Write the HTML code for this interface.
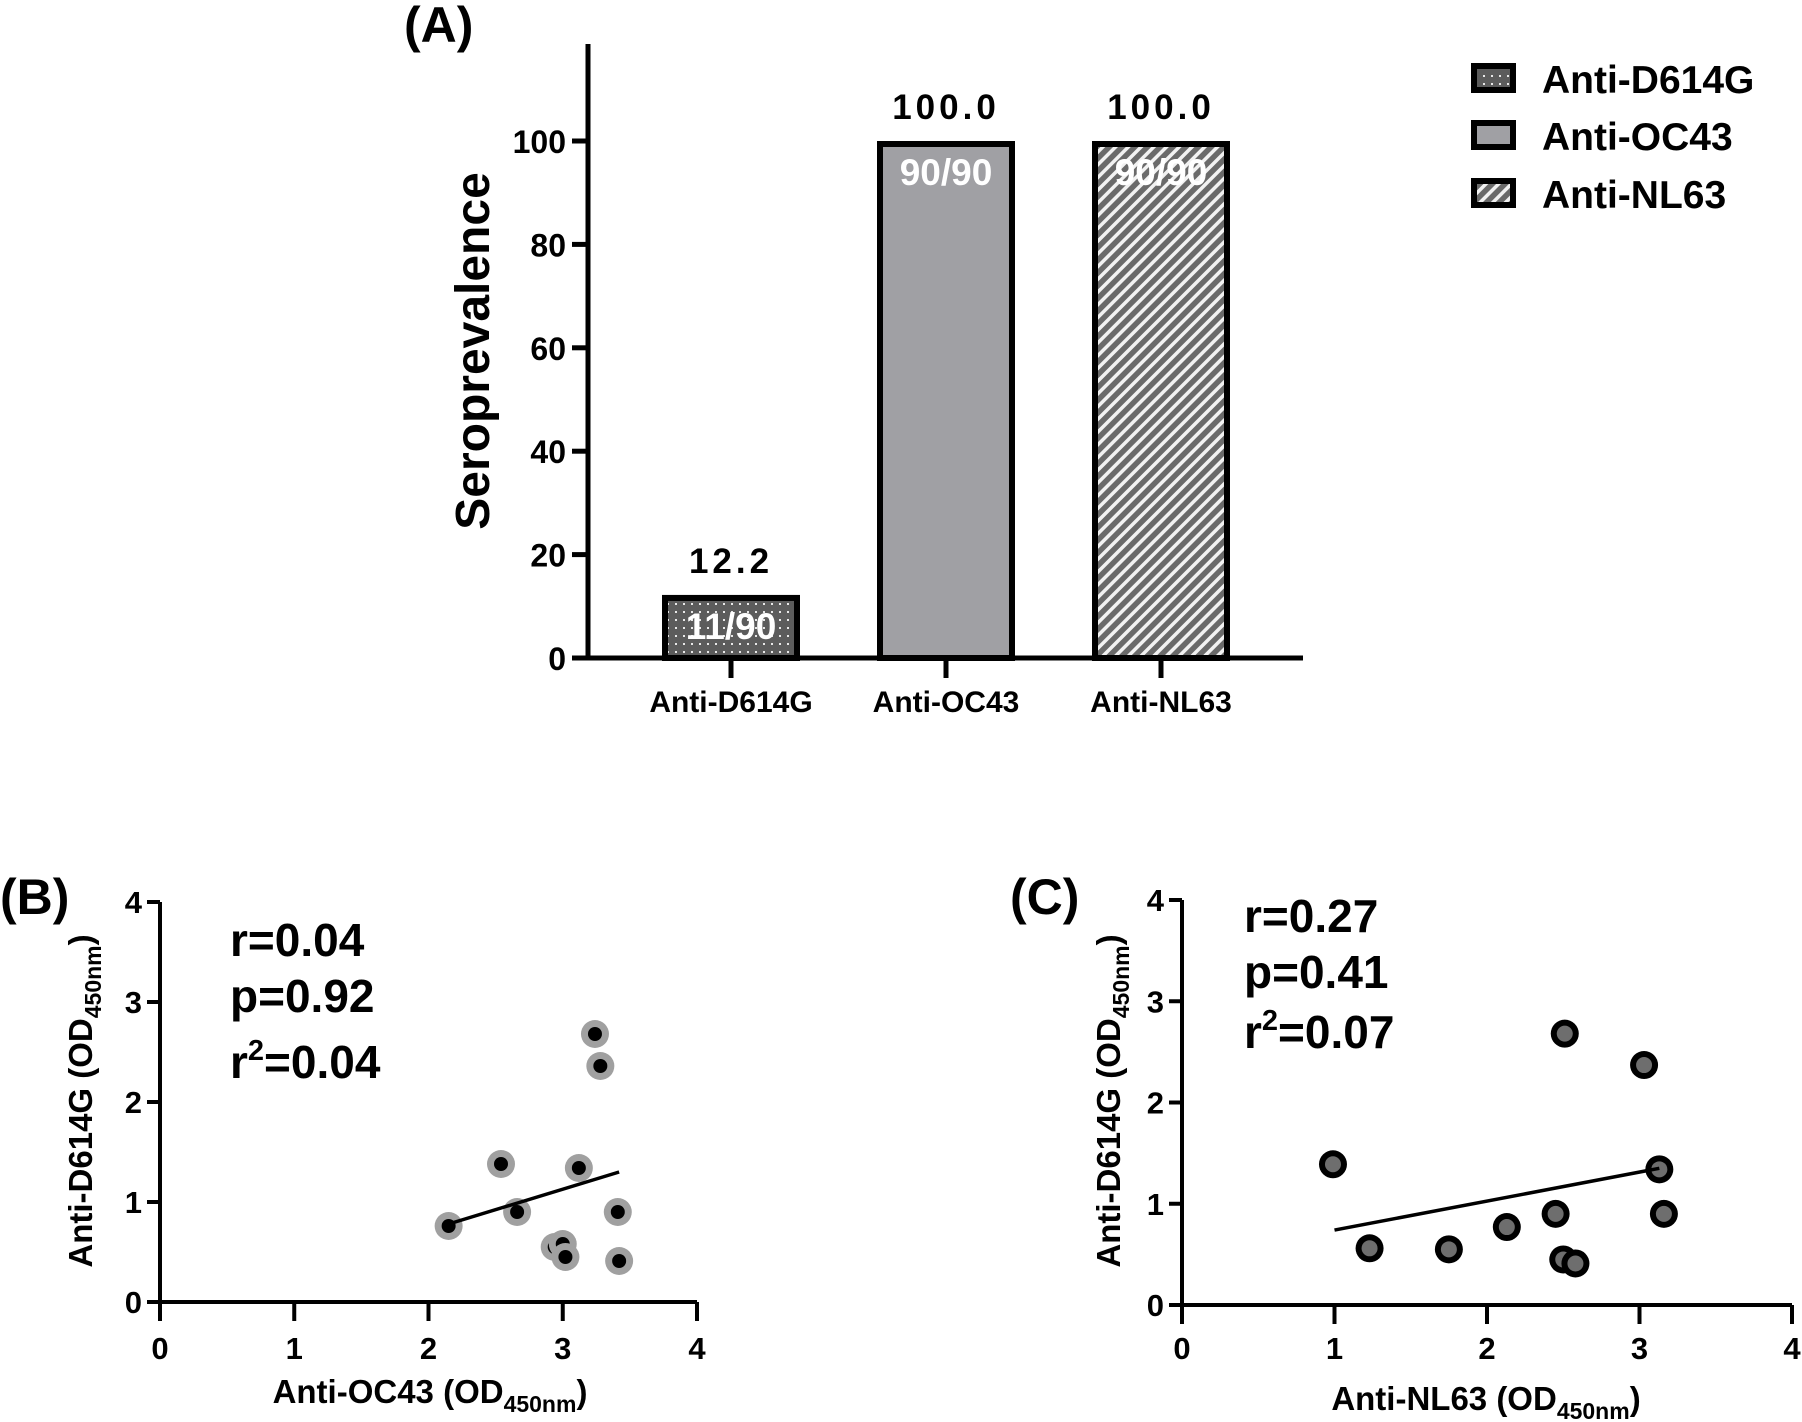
<!DOCTYPE html>
<html><head><meta charset="utf-8"><style>
html,body{margin:0;padding:0;background:#fff;}
svg{display:block;font-family:"Liberation Sans",Arial,sans-serif;font-weight:bold;}
</style></head><body>
<svg id="fig" width="1802" height="1422" viewBox="0 0 1802 1422" xmlns="http://www.w3.org/2000/svg">
<defs>
<pattern id="dots" width="8" height="8" patternUnits="userSpaceOnUse"><rect width="8" height="8" fill="#5c5c5c"/><rect x="3" y="3" width="2" height="2" fill="#e8e8e8"/></pattern>
<pattern id="hatch" width="9" height="9" patternUnits="userSpaceOnUse" patternTransform="rotate(45)"><rect width="9" height="9" fill="#6a6a6a"/><rect x="0" y="0" width="3.5" height="9" fill="#f2f2f2"/></pattern>
</defs>
<g id="pa"></g>
<g id="pb"></g>
<g id="pc"></g>
</svg>
<script>
// Panel A data
var barCats = ["Anti-D614G","Anti-OC43","Anti-NL63"];
var barVals = [12.2,100.0,100.0];
var barValLabels = ["12.2","100.0","100.0"];
var barCounts = ["11/90","90/90","90/90"];
var barFills = ["url(#dots)","#a0a0a4","url(#hatch)"];
var yTicksA = [0,20,40,60,80,100];
// Panel B data
var bX = [3.24,3.28,2.54,3.12,2.66,3.41,2.15,2.94,3.00,3.02,3.42];
var bY = [2.68,2.36,1.38,1.34,0.90,0.90,0.76,0.55,0.58,0.45,0.41];
var bFitX = [2.15,3.42];
var bFitY = [0.78,1.30];
var bStats = ["r=0.04","p=0.92","0.04"];
// Panel C data
var cX = [0.99,1.23,1.75,2.13,2.45,2.51,2.50,2.58,3.03,3.13,3.16];
var cY = [1.39,0.56,0.55,0.77,0.90,2.68,0.45,0.41,2.37,1.34,0.90];
var cFitX = [1.0,3.13];
var cFitY = [0.74,1.35];
var cStats = ["r=0.27","p=0.41","0.07"];
var scatTicks = [0,1,2,3,4];

var NS="http://www.w3.org/2000/svg";
function mk(parent,tag,attrs,text){var e=document.createElementNS(NS,tag);for(var k in attrs)e.setAttribute(k,attrs[k]);if(text!==undefined)e.textContent=text;parent.appendChild(e);return e;}

// ---- Panel A ----
var pa=document.getElementById('pa');
var ax0=588, ay0=658, ayPer=(658-141)/100, axEnd=1303;
function ya(v){return ay0-v*ayPer;}
var t=mk(pa,'text',{x:404,y:42,'font-size':50});t.textContent='(A)';


var l=mk(pa,'line',{x1:ax0,y1:44,x2:ax0,y2:ay0+2,stroke:'#000','stroke-width':5});


l=mk(pa,'line',{x1:ax0-2,y1:ay0,x2:axEnd,y2:ay0,stroke:'#000','stroke-width':5});


yTicksA.forEach(function(v){
  var tk=mk(pa,'line',{x1:ax0-16,y1:ya(v),x2:ax0,y2:ya(v),stroke:'#000','stroke-width':5});
  
  
  var tl=mk(pa,'text',{x:566,y:ya(v)+12,'font-size':32,'text-anchor':'end'},String(v));
  
  
});
var yt=mk(pa,'text',{x:0,y:0,'font-size':48,'text-anchor':'middle',transform:'translate(489,351) rotate(-90)'},'Seroprevalence');


var barW=138, barStart=662, barStep=215;
barVals.forEach(function(v,i){
  var x=barStart+i*barStep, cx=x+barW/2;
  var r=mk(pa,'rect',{x:x+3,y:ya(v)+3,width:barW-6,height:ay0-ya(v)-3,fill:barFills[i],stroke:'#000','stroke-width':6});
  
  
  var vl=mk(pa,'text',{x:cx,y:ya(v)-22,'font-size':35,'text-anchor':'middle','letter-spacing':4},barValLabels[i]);
  
  
  var cl=mk(pa,'text',{x:cx,y:ya(v)+44,'font-size':37,'text-anchor':'middle',fill:'#fff'},barCounts[i]);
  
  
  var tk=mk(pa,'line',{x1:cx,y1:ay0,x2:cx,y2:678,stroke:'#000','stroke-width':5});
  
  
  var xl=mk(pa,'text',{x:cx,y:712,'font-size':30,'text-anchor':'middle'},barCats[i]);
  
  
});
// legend
var legY=[63,120,178];
barCats.forEach(function(c,i){
  var g=mk(pa,'g',{});
  
  
  mk(g,'rect',{x:1474,y:legY[i]+3,width:39,height:24,fill:barFills[i],stroke:'#000','stroke-width':6});
  mk(g,'text',{x:1542,y:legY[i]+30,'font-size':39},c);
});

// ---- Scatter panels ----
function scatter(gid,o){
  var g=document.getElementById(gid);
  function sx(v){return o.x0+v*(o.x4-o.x0)/4;}
  function sy(v){return o.y0-v*(o.y0-o.y4)/4;}
  var lb=mk(g,'text',{x:o.lx,y:o.ly,'font-size':50},o.label);
  
  
  var a=mk(g,'line',{x1:o.x0,y1:o.y4,x2:o.x0,y2:o.y0+2,stroke:'#000','stroke-width':4});
  
  
  a=mk(g,'line',{x1:o.x0-2,y1:o.y0,x2:o.x4,y2:o.y0,stroke:'#000','stroke-width':4});
  
  
  scatTicks.forEach(function(v){
    var t1=mk(g,'line',{x1:o.x0-13,y1:sy(v),x2:o.x0,y2:sy(v),stroke:'#000','stroke-width':4});
    
    
    var t2=mk(g,'text',{x:o.x0-18,y:sy(v)+11,'font-size':31,'text-anchor':'end'},String(v));
    
    
    var t3=mk(g,'line',{x1:sx(v),y1:o.y0,x2:sx(v),y2:o.y0+19,stroke:'#000','stroke-width':4});
    
    
    var t4=mk(g,'text',{x:sx(v),y:1359,'font-size':31,'text-anchor':'middle'},String(v));
    
    
  });
  var ytl=mk(g,'text',{'font-size':33,'text-anchor':'middle',transform:'translate('+o.ytx+',1101) rotate(-90)'});
  
  
  ytl.innerHTML='Anti-D614G (OD<tspan font-size="23" dy="9">450nm</tspan><tspan dy="-9">)</tspan>';
  var xtl=mk(g,'text',{x:o.xtx,y:o.xty,'font-size':33,'text-anchor':'middle'});
  
  
  xtl.innerHTML=o.xname+' (OD<tspan font-size="23" dy="9">450nm</tspan><tspan dy="-9">)</tspan>';
  var s1=mk(g,'text',{x:o.sx,y:o.sy[0],'font-size':46},o.stats[0]);
  
  
  var s2=mk(g,'text',{x:o.sx,y:o.sy[1],'font-size':46},o.stats[1]);
  
  
  var s3=mk(g,'text',{x:o.sx,y:o.sy[2],'font-size':46});
  
  
  s3.innerHTML='r<tspan font-size="29" dy="-18">2</tspan><tspan dy="18">='+o.stats[2]+'</tspan>';
  o.xs.forEach(function(v,i){
    var c=mk(g,'circle',{cx:sx(v),cy:sy(o.ys[i]),r:o.r1,fill:o.c1});
    
    
    var d=mk(g,'circle',{cx:sx(v),cy:sy(o.ys[i]),r:o.r2,fill:o.c2});
    
    
  });
  var fl=mk(g,'line',{x1:sx(o.fx[0]),y1:sy(o.fy[0]),x2:sx(o.fx[1]),y2:sy(o.fy[1]),stroke:'#000','stroke-width':3.5});
  
  
}
scatter('pb',{x0:160,x4:697,y0:1302,y4:902,label:'(B)',lx:0,ly:914,ytx:92,xtx:430,xty:1403,xname:'Anti-OC43',
  sx:230,sy:[956,1012,1078],stats:bStats,xs:bX,ys:bY,fx:bFitX,fy:bFitY,r1:14,r2:7,c1:'#a0a0a0',c2:'#000'});
scatter('pc',{x0:1182,x4:1792,y0:1305,y4:900,label:'(C)',lx:1010,ly:914,ytx:1120,xtx:1486,xty:1410,xname:'Anti-NL63',
  sx:1244,sy:[932,988,1048],stats:cStats,xs:cX,ys:cY,fx:cFitX,fy:cFitY,r1:14,r2:8,c1:'#000',c2:'#6e6e6e'});
</script>
</body></html>
